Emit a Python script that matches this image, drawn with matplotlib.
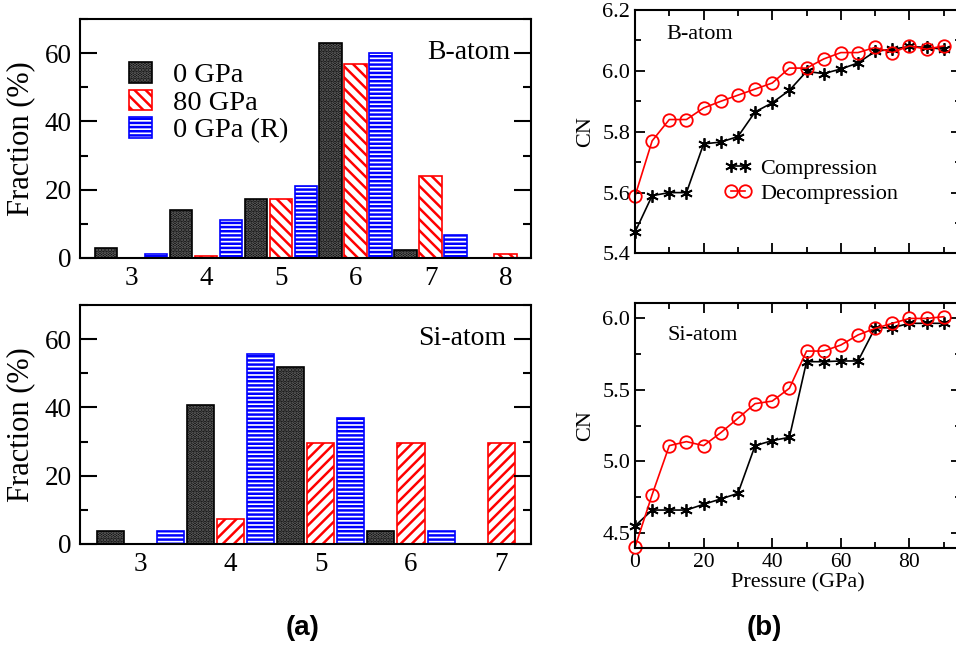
import matplotlib
matplotlib.use("Agg")
import matplotlib.pyplot as plt
import numpy as np
from matplotlib.patches import Patch
from matplotlib.legend_handler import HandlerTuple
from matplotlib.ticker import MultipleLocator

plt.rcParams['font.family'] = ['Liberation Serif', 'DejaVu Serif']
plt.rcParams['hatch.linewidth'] = 1.8
plt.rcParams['axes.linewidth'] = 1.5

# (a) coordination number distribution, Fraction (%)
b_cn = [3, 4, 5, 6, 7, 8]
b_0gpa = [2.9, 14.1, 17.3, 62.9, 2.4, 0.0]
b_80gpa = [0.0, 0.6, 17.3, 57.0, 24.0, 1.2]
b_0gpa_r = [1.2, 11.1, 21.1, 60.0, 6.8, 0.0]

si_cn = [3, 4, 5, 6, 7]
si_0gpa = [3.7, 40.7, 51.9, 3.7, 0.0]
si_80gpa = [0.0, 7.4, 29.6, 29.6, 29.6]
si_0gpa_r = [3.7, 55.6, 37.0, 3.7, 0.0]

labels = ["0 GPa", "80 GPa", "0 GPa (R)"]

# (b) average CN vs pressure
pressure = [0, 5, 10, 15, 20, 25, 30, 35, 40, 45, 50, 55, 60, 65, 70, 75, 80, 85, 90]
b_comp = [5.47, 5.59, 5.60, 5.60, 5.76, 5.766, 5.784, 5.865, 5.895, 5.936, 5.998, 5.991,
          6.006, 6.026, 6.064, 6.071, 6.08, 6.077, 6.071]
b_decomp = [5.588, 5.77, 5.84, 5.84, 5.878, 5.90, 5.92, 5.94, 5.96, 6.009, 6.009, 6.039,
            6.06, 6.06, 6.077, 6.06, 6.082, 6.071, 6.082]
si_comp = [4.551, 4.662, 4.662, 4.662, 4.702, 4.739, 4.778, 5.11, 5.145, 5.168, 5.694, 5.694,
           5.699, 5.699, 5.93, 5.93, 5.961, 5.961, 5.961]
si_decomp = [4.403, 4.769, 5.11, 5.138, 5.11, 5.20, 5.30, 5.402, 5.42, 5.509, 5.768, 5.768,
             5.81, 5.88, 5.926, 5.961, 5.995, 5.995, 6.007]

fig = plt.figure(figsize=(9.56, 6.55), dpi=100)
ax1 = fig.add_axes([0.0837, 0.6066, 0.4717, 0.3639])
ax2 = fig.add_axes([0.0837, 0.1695, 0.4717, 0.3649])
ax3 = fig.add_axes([0.6642, 0.6130, 0.3410, 0.3718])
ax4 = fig.add_axes([0.6642, 0.1638, 0.3410, 0.3731])


def draw_bars(ax, cats, series, red_hatch):
    # (face, hatch colour, outline, hatch)
    styles = [('black', '#6e6e6e', 'black', '.....'),
              ('white', 'red', 'red', red_hatch),
              ('white', 'blue', 'blue', '----')]
    x = np.array(cats, dtype=float)
    handles = []
    for i, (vals, st) in enumerate(zip(series, styles)):
        fc, hc, ec, h = st
        pos = x + (i - 1) / 3
        ax.bar(pos, vals, 0.3, color=fc, edgecolor=hc, hatch=h, lw=0)
        ax.bar(pos, vals, 0.3, fill=False, edgecolor=ec, lw=1.2)
        handles.append((Patch(facecolor=fc, edgecolor=hc, hatch=h, lw=0),
                        Patch(fill=False, edgecolor=ec, lw=1.2)))
    ax.set_xticks(cats)
    ax.set_ylim(0, 70)
    ax.yaxis.set_major_locator(MultipleLocator(20))
    ax.yaxis.set_minor_locator(MultipleLocator(10))
    ax.tick_params(axis='y', which='both', direction='in', right=True, width=1.5,
                   labelsize=19.5, pad=6)
    ax.tick_params(axis='y', which='major', length=12)
    ax.tick_params(axis='y', which='minor', length=6)
    ax.tick_params(axis='x', length=0, labelsize=19.5, pad=6)
    ax.set_ylabel("Fraction (%)", fontsize=22)
    ax.yaxis.set_label_coords(-0.10, 0.5)
    return handles


h = draw_bars(ax1, b_cn, [b_0gpa, b_80gpa, b_0gpa_r], '\\\\\\')
ax1.set_xlim(2.32, 8.34)
ax1.text(0.955, 0.86, "B-atom", transform=ax1.transAxes, ha='right', va='center', fontsize=20)
ax1.legend(h, labels, handler_map={tuple: HandlerTuple(ndivide=1, pad=0)},
           loc='center left', bbox_to_anchor=(0.109, 0.65), frameon=False, fontsize=20.5,
           handlelength=0.79, handleheight=0.74, handletextpad=0.76, labelspacing=0.05,
           borderpad=0, borderaxespad=0)

draw_bars(ax2, si_cn, [si_0gpa, si_80gpa, si_0gpa_r], '///')
ax2.set_xlim(2.33, 7.33)
ax2.text(0.945, 0.86, "Si-atom", transform=ax2.transAxes, ha='right', va='center', fontsize=20)


def draw_cn(ax, comp, decomp):
    ax.plot(pressure, comp, color='black', lw=1.2, marker=(6, 2, 0), ms=9, mew=1.3,
            label='Compression', clip_on=False)
    ax.plot(pressure, decomp, color='red', lw=1.2, marker='o', mfc='none', ms=9, mew=1.3,
            label='Decompression', clip_on=False)
    ax.set_xlim(0, 95)
    ax.xaxis.set_major_locator(MultipleLocator(20))
    ax.xaxis.set_minor_locator(MultipleLocator(10))
    ax.tick_params(which='both', direction='in', top=True, right=True, width=1.3)
    ax.tick_params(which='major', length=7)
    ax.tick_params(which='minor', length=4)
    ax.tick_params(axis='x', pad=4, labelsize=15.5)
    ax.tick_params(axis='y', pad=3.5, labelsize=16)
    ax.set_ylabel("CN", fontsize=16)
    ax.yaxis.set_label_coords(-0.123, 0.5)


draw_cn(ax3, b_comp, b_decomp)
ax3.set_ylim(5.4, 6.2)
ax3.yaxis.set_major_locator(MultipleLocator(0.2))
ax3.yaxis.set_minor_locator(MultipleLocator(0.1))
ax3.yaxis.set_major_formatter('{x:.1f}')
ax3.tick_params(axis='x', labelbottom=False)
ax3.text(0.095, 0.9, "B-atom", transform=ax3.transAxes, ha='left', va='center', fontsize=16)
ax3.legend(loc='center left', bbox_to_anchor=(0.273, 0.298), frameon=False, fontsize=16,
           numpoints=2, handlelength=1.26, handletextpad=0.36, labelspacing=0.2,
           borderpad=0, borderaxespad=0)

draw_cn(ax4, si_comp, si_decomp)
ax4.set_ylim(4.4, 6.1)
ax4.yaxis.set_major_locator(MultipleLocator(0.5))
ax4.yaxis.set_minor_locator(MultipleLocator(0.25))
ax4.yaxis.set_major_formatter('{x:.1f}')
ax4.set_xlabel("Pressure (GPa)", fontsize=16)
ax4.xaxis.set_label_coords(0.5, -0.105)
ax4.text(0.1, 0.87, "Si-atom", transform=ax4.transAxes, ha='left', va='center', fontsize=16)

fig.text(303 / 956, 1 - 628 / 655, "(a)", ha='center', va='center', fontsize=20,
         fontweight='bold', family=['Liberation Sans', 'DejaVu Sans'])
fig.text(764 / 956, 1 - 628 / 655, "(b)", ha='center', va='center', fontsize=20,
         fontweight='bold', family=['Liberation Sans', 'DejaVu Sans'])

fig.savefig("out.png", dpi=100)
